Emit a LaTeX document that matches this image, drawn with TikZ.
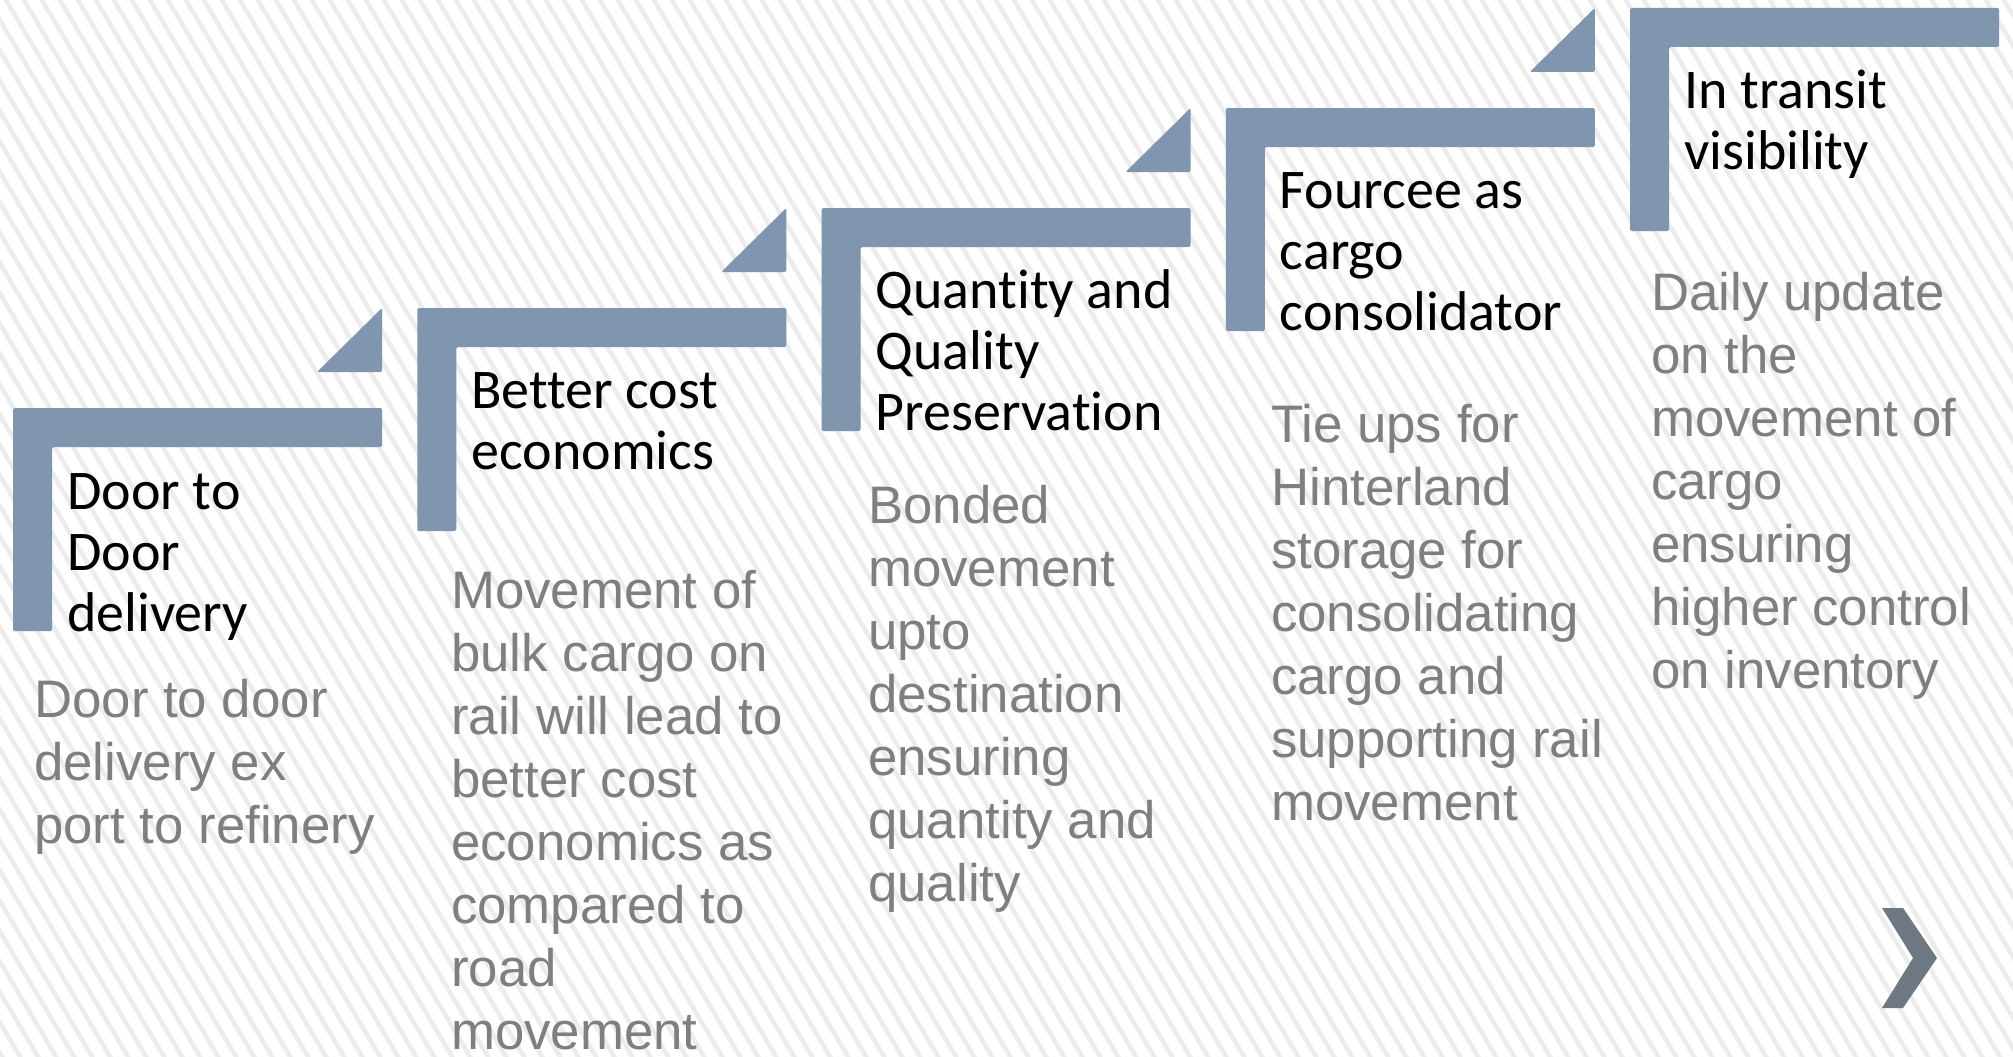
\documentclass[tikz,border=0pt]{standalone}
\usepackage{fontspec}
\setmainfont{Carlito}[Ligatures=NoCommon]
\newfontfamily\arialf{Liberation Sans}[Ligatures=NoCommon]
\definecolor{barc}{RGB}{127,150,174}
\definecolor{bodyc}{RGB}{127,127,127}
\definecolor{chevc}{RGB}{110,120,130}
\definecolor{stripec}{RGB}{236,236,236}
\newcommand\mystack[1]{\vtop{\halign{##\hfil\cr#1\crcr}}}
\begin{document}
\begin{tikzpicture}[x=1pt,y=-1pt,
  head/.style={inner sep=0pt, anchor=base west, font=\fontsize{56}{61}\selectfont, text=black},
  body/.style={inner sep=0pt, anchor=base west, font=\arialf\fontsize{52.8}{63}\selectfont, text=bodyc},
  bar/.style={fill=barc, rounded corners=1.5pt},
  chev/.style={fill=chevc}
]
\useasboundingbox (0,0) rectangle (2013,1057);
\clip (0,0) rectangle (2013,1057);
\fill[white] (0,0) rectangle (2013,1057);
\foreach \i in {-40,...,115} { \draw[stripec, line width=4.5pt] (\i*18,-10) -- ++(640,1080); }
% steps
\foreach \k in {0,...,4} {
  \pgfmathsetmacro\L{13+404.25*\k}
  \pgfmathsetmacro\T{408-100*\k}
  \fill[bar] (\L,\T) -- ++(369,0) -- ++(0,39) -- ++(-330,0) -- ++(0,184) -- ++(-39,0) -- cycle;
}
\foreach \k in {0,...,3} {
  \pgfmathsetmacro\L{13+404.25*\k}
  \pgfmathsetmacro\T{408-100*\k}
  \fill[bar] (\L+304,\T-36) -- (\L+369,\T-100) -- (\L+369,\T-36) -- cycle;
}
% headings
\node[head] (h1) at (67,509) {\mystack{Door to\cr Door\cr delivery}};
\node[head] (h2) at (471.25,408) {\mystack{Better cost\cr economics}};
\node[head] (h3) at (875.5,308) {\mystack{Quantity and\cr Quality\cr Preservation}};
\node[head] (h4) at (1279.75,208) {\mystack{Fourcee as\cr cargo\cr consolidator}};
\node[head] (h5) at (1684,108) {\mystack{In transit\cr visibility}};
% bodies
\node[body] (b1) at (34,717) {\mystack{Door to door\cr delivery ex\cr port to refinery}};
\node[body] (b2) at (451,608) {\mystack{Movement of\cr bulk cargo on\cr rail will lead to\cr better cost\cr economics as\cr compared to\cr road\cr movement}};
\node[body] (b3) at (868,523) {\mystack{Bonded\cr movement\cr upto\cr destination\cr ensuring\cr quantity and\cr quality}};
\node[body] (b4) at (1271,442) {\mystack{Tie ups for\cr Hinterland\cr storage for\cr consolidating\cr cargo and\cr supporting rail\cr movement}};
\node[body] (b5) at (1651,310) {\mystack{Daily update\cr on the\cr movement of\cr cargo\cr ensuring\cr higher control\cr on inventory}};
% chevron
\fill[chev] (1882,908) -- (1903,908) -- (1937,958) -- (1903,1008) -- (1882,1008) -- (1913,958) -- cycle;
\end{tikzpicture}
\end{document}
